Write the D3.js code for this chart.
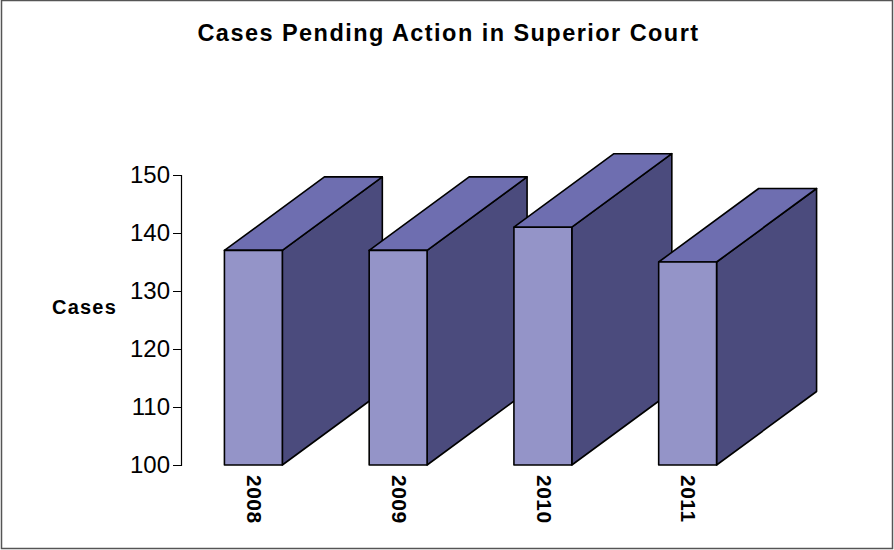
<!DOCTYPE html>
<html><head><meta charset="utf-8">
<script src="https://cdn.jsdelivr.net/npm/d3@7"></script>
<style>body{margin:0;background:#fff}svg{display:block;font-family:"Liberation Sans",Arial,sans-serif}</style>
</head><body>
<svg id="c" width="894" height="550"></svg>
<script>
const categories = ["2008", "2009", "2010", "2011"];
const values = [137, 137, 141, 135];
const yTicks = [100, 110, 120, 130, 140, 150];
const title = "Cases Pending Action in Superior Court";
const yTitle = "Cases";

const svg = d3.select("#c");
svg.append("rect").attr("x", 1.5).attr("y", 0.5).attr("width", 891).attr("height", 548)
  .attr("fill", "#fff").attr("stroke", "#555").attr("stroke-width", 1.5);

const x = d3.scaleBand().domain(categories).range([181, 760]).paddingInner(0.6).paddingOuter(0.3);
const y = d3.scaleLinear().domain([100, 150]).range([465, 175]);
const dx = 100, dy = -73.5;

svg.append("text").attr("x", 448.5).attr("y", 41).attr("text-anchor", "middle")
  .attr("font-size", 23.5).attr("font-weight", "bold").attr("letter-spacing", 1.45).text(title);

const ax = svg.append("g").attr("transform", "translate(181,0)")
  .call(d3.axisLeft(y).tickValues(yTicks).tickSize(8).tickPadding(3).tickFormat(d3.format("d")));
ax.select(".domain").attr("stroke", "#000").attr("stroke-width", 1.2);
ax.selectAll(".tick line").attr("stroke", "#000");
ax.selectAll(".tick text").attr("font-size", 24).attr("fill", "#000")
  .attr("font-family", "'Liberation Sans',Arial,sans-serif");

svg.append("text").attr("x", 84.5).attr("y", 314).attr("text-anchor", "middle")
  .attr("font-size", 20).attr("font-weight", "bold").attr("letter-spacing", 1.2).text(yTitle);

const bars = svg.append("g").attr("stroke", "#000").attr("stroke-width", 1.6).attr("stroke-linejoin", "round");
categories.forEach((c, i) => {
  const x0 = x(c), x1 = x0 + x.bandwidth(), yt = y(values[i]), yb = y(100);
  const g = bars.append("g");
  g.append("path").attr("fill", "#4B4B7D")
    .attr("d", `M${x1},${yt}L${x1+dx},${yt+dy}L${x1+dx},${yb+dy}L${x1},${yb}Z`);
  g.append("path").attr("fill", "#6E6EB0")
    .attr("d", `M${x0},${yt}L${x0+dx},${yt+dy}L${x1+dx},${yt+dy}L${x1},${yt}Z`);
  g.append("rect").attr("fill", "#9494C8")
    .attr("x", x0).attr("y", yt).attr("width", x.bandwidth()).attr("height", yb - yt);
  svg.append("text").attr("transform", `translate(${x0 + x.bandwidth()/2 + 1},475) rotate(90)`)
    .attr("dy", "0.35em").attr("font-size", 21).attr("font-weight", "bold").attr("letter-spacing", 0.5).text(c);
});
</script>
</body></html>
